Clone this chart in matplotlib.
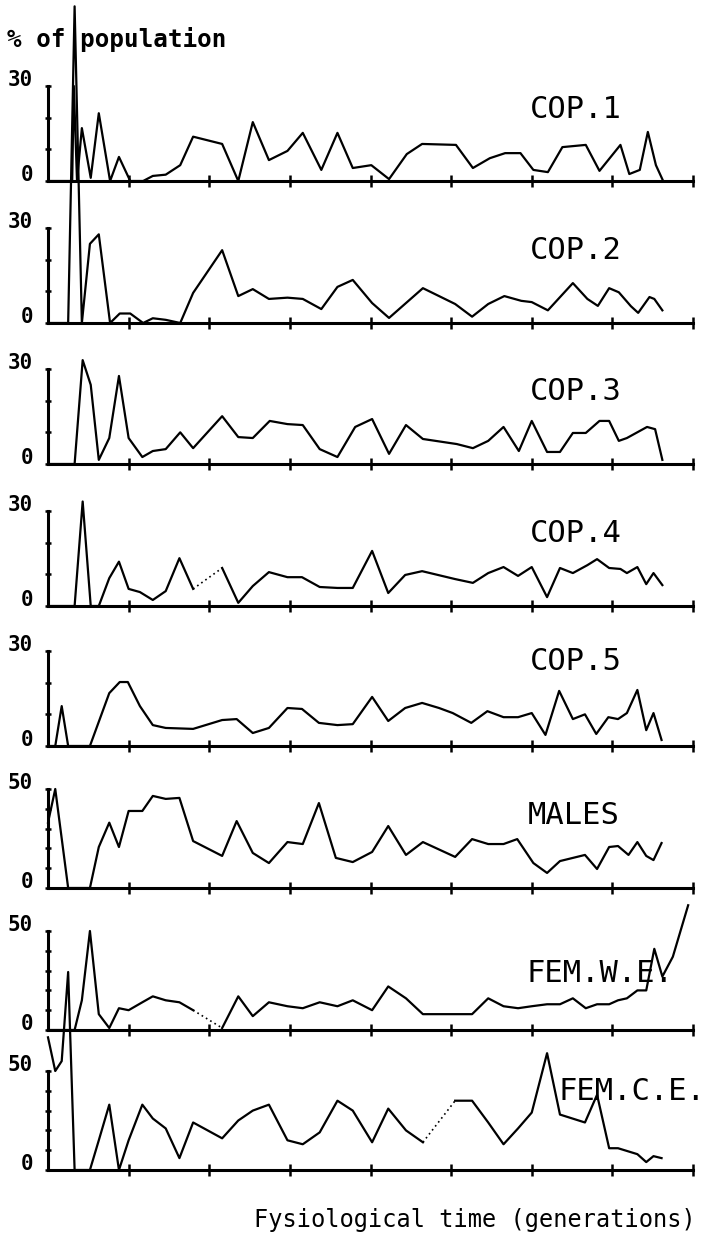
import matplotlib
matplotlib.use('Agg')
import matplotlib.pyplot as plt

# Stage composition of the population (% of population) against fysiological time (generations)
cop1_t = [0, 0.30, 0.32, 0.36, 0.42, 0.53, 0.63, 0.77, 0.88, 1.02, 1.18, 1.30, 1.46, 1.64, 1.80, 2.16,
          2.36, 2.54, 2.74, 2.97, 3.16, 3.39, 3.59, 3.78, 4.01, 4.23, 4.45, 4.64, 5.06, 5.27, 5.48, 5.67,
          5.86, 6.02, 6.20, 6.38, 6.67, 6.84, 7.10, 7.21, 7.34, 7.44, 7.54, 7.63]
cop1_pct = [0, 0, 30, 0, 16.7, 1, 21.4, 0, 7.6, 0, 0, 1.6, 2, 5, 14, 11.7,
            0, 18.6, 6.6, 9.5, 15.2, 3.5, 15.2, 4.1, 5, 0.6, 8.5, 11.7, 11.4, 4.1, 7.2, 8.8,
            8.8, 3.5, 2.8, 10.7, 11.4, 3.2, 11.4, 2.2, 3.5, 15.5, 5, 0]

cop2_t = [0, 0.25, 0.33, 0.42, 0.52, 0.63, 0.77, 0.89, 1.02, 1.18, 1.30, 1.46, 1.64, 1.80, 2.16, 2.36,
          2.54, 2.74, 2.97, 3.16, 3.39, 3.59, 3.78, 4.02, 4.23, 4.65, 5.05, 5.26, 5.46, 5.66, 5.87, 6.00,
          6.20, 6.51, 6.69, 6.82, 6.96, 7.08, 7.23, 7.32, 7.46, 7.52, 7.62]
cop2_pct = [0, 0, 100, 0, 25, 28, 0, 3, 3, 0, 1.5, 1, 0, 9.5, 23, 8.5,
            10.7, 7.6, 8, 7.6, 4.4, 11.4, 13.6, 6.3, 1.6, 11, 6, 2, 6, 8.5, 7, 6.6,
            4, 12.6, 7.6, 5.4, 11, 9.7, 5.3, 3.2, 8.2, 7.6, 4]

cop3_t = [0, 0.33, 0.43, 0.53, 0.63, 0.76, 0.88, 1.00, 1.17, 1.30, 1.46, 1.64, 1.80, 2.16, 2.36, 2.54,
          2.75, 2.97, 3.16, 3.37, 3.59, 3.81, 4.02, 4.23, 4.44, 4.65, 5.07, 5.27, 5.46, 5.65, 5.84, 6.00,
          6.19, 6.35, 6.51, 6.67, 6.84, 6.96, 7.08, 7.18, 7.43, 7.53, 7.62]
cop3_pct = [0, 0, 32.8, 25, 1.3, 8.2, 27.8, 8.2, 2.2, 4.1, 4.7, 10, 5, 15.1, 8.5, 8.2,
            13.6, 12.6, 12.3, 4.7, 2.2, 11.7, 14.2, 3.2, 12.3, 7.9, 6.3, 5, 7.3, 11.7, 4.1, 13.6,
            3.8, 3.8, 9.8, 9.8, 13.6, 13.6, 7.3, 8.2, 11.7, 11, 1.3]

cop4_t = [0, 0.33, 0.43, 0.53, 0.63, 0.76, 0.88, 1.00, 1.14, 1.30, 1.46, 1.63, 1.80, 2.16, 2.36, 2.54,
          2.74, 2.97, 3.15, 3.37, 3.59, 3.78, 4.02, 4.22, 4.43, 4.64, 5.05, 5.27, 5.46, 5.65, 5.83, 6.00,
          6.19, 6.35, 6.51, 6.69, 6.81, 6.96, 7.10, 7.18, 7.31, 7.42, 7.51, 7.62]
cop4_pct = [0, 0, 33, 0, 0, 8.8, 14, 5.4, 4.4, 1.9, 4.7, 15.1, 5.4, 12, 1, 6.3,
            10.7, 9.1, 9.1, 6, 5.7, 5.7, 17.4, 4.1, 9.8, 11, 8.5, 7.3, 10.4, 12.3, 9.5, 12.3,
            2.8, 12, 10.4, 12.9, 14.8, 12, 11.7, 10.4, 12.3, 6.9, 10.4, 6.6]

cop5_t = [0, 0.09, 0.17, 0.25, 0.52, 0.76, 0.89, 0.99, 1.14, 1.30, 1.46, 1.80, 2.16, 2.34, 2.54, 2.74,
          2.97, 3.15, 3.36, 3.59, 3.78, 4.02, 4.22, 4.43, 4.64, 4.85, 5.02, 5.25, 5.45, 5.65, 5.83, 6.00,
          6.17, 6.34, 6.51, 6.66, 6.80, 6.95, 7.07, 7.18, 7.31, 7.42, 7.51, 7.61]
cop5_pct = [0, 0, 12.6, 0, 0, 16.7, 20.2, 20.2, 12.6, 6.6, 5.7, 5.4, 8.2, 8.5, 4.1, 5.7,
            12, 11.7, 7.3, 6.6, 6.9, 15.5, 7.9, 12, 13.6, 12, 10.4, 7.3, 11, 9.1, 9.1, 10.4,
            3.5, 17.4, 8.5, 10, 3.8, 9.1, 8.5, 10.4, 17.7, 5, 10.4, 1.9]

males_t = [0, 0.09, 0.25, 0.52, 0.63, 0.76, 0.88, 1.00, 1.17, 1.30, 1.46, 1.63, 1.80, 2.16, 2.34, 2.54,
           2.74, 2.97, 3.16, 3.36, 3.57, 3.78, 4.02, 4.22, 4.44, 4.65, 5.05, 5.26, 5.46, 5.65, 5.82, 6.02,
           6.19, 6.35, 6.66, 6.81, 6.96, 7.07, 7.20, 7.31, 7.42, 7.51, 7.61]
males_pct = [33, 50, 0, 0, 20.7, 33, 20.7, 38.9, 38.9, 46.5, 45, 45.5, 23.7, 16.2, 33.8, 17.7,
             12.6, 23.2, 22.2, 42.9, 15.2, 13.1, 18.2, 31.3, 16.7, 23.2, 15.7, 24.7, 22.2, 22.2, 24.7, 12.6,
             7.6, 13.6, 16.7, 9.6, 20.7, 21.2, 16.7, 23.2, 16.2, 14.1, 22.7]

femwe_t = [0, 0.25, 0.33, 0.42, 0.52, 0.63, 0.76, 0.88, 1.00, 1.17, 1.30, 1.46, 1.63, 1.80, 2.16, 2.36,
           2.54, 2.74, 2.97, 3.16, 3.37, 3.59, 3.78, 4.02, 4.22, 4.44, 4.65, 5.05, 5.26, 5.46, 5.65, 5.83,
           6.00, 6.19, 6.35, 6.51, 6.67, 6.81, 6.96, 7.07, 7.18, 7.31, 7.42, 7.52, 7.62, 7.75, 7.94]
femwe_pct = [0, 0, 0, 15, 50, 8, 1, 11, 10, 14, 17, 15, 14, 10, 1, 17,
             7, 14, 12, 11, 14, 12, 15, 10, 22, 16, 8, 8, 8, 16, 12, 11,
             12, 13, 13, 16, 11, 13, 13, 15, 16, 20, 20, 41, 27, 37, 63]

femce_t = [0, 0.09, 0.17, 0.25, 0.33, 0.52, 0.63, 0.76, 0.88, 1.00, 1.17, 1.30, 1.46, 1.63, 1.80, 2.16,
           2.36, 2.54, 2.74, 2.97, 3.16, 3.37, 3.59, 3.78, 4.02, 4.22, 4.44, 4.65, 5.05, 5.26, 5.46, 5.65,
           5.83, 6.00, 6.19, 6.35, 6.66, 6.81, 6.96, 7.07, 7.31, 7.42, 7.51, 7.61]
femce_pct = [67, 50, 55, 100, 0, 0, 15, 33, 0, 15, 33, 26, 21, 6, 24, 16,
             25, 30, 33, 15, 13, 19, 35, 30, 14, 31, 20, 14, 35, 35, 24, 13,
             21, 29, 59, 28, 24, 38, 11, 11, 8, 4, 7, 6]

panel_names = ['COP.1', 'COP.2', 'COP.3', 'COP.4', 'COP.5', 'MALES', 'FEM.W.E.', 'FEM.C.E.']
panel_t = [cop1_t, cop2_t, cop3_t, cop4_t, cop5_t, males_t, femwe_t, femce_t]
panel_pct = [cop1_pct, cop2_pct, cop3_pct, cop4_pct, cop5_pct, males_pct, femwe_pct, femce_pct]
panel_ymax = [30, 30, 30, 30, 30, 50, 50, 50]
# segments the plotter drew dotted (start time of the segment)
dotted_from = {3: [1.80], 6: [1.80], 7: [4.65]}

# layout (pixels)
W, H = 707, 1248
left_px, width_px = 48, 645
baseline_px = [181, 323, 464, 606, 746, 888, 1030, 1170]
name_x_px = [530, 530, 530, 530, 530, 528, 527, 558]
name_dy_px = [71, 73, 72, 73, 85, 73, 57, 78]

mono = 'DejaVu Sans Mono'
fig = plt.figure(figsize=(W / 100, H / 100), dpi=100)
fig.patch.set_facecolor('white')

for i, name in enumerate(panel_names):
    ymax = panel_ymax[i]
    px_per_pct = 95 / 30 if ymax == 30 else 99 / 50
    ax_h = 100
    ax = fig.add_axes([left_px / W, 1 - baseline_px[i] / H, width_px / W, ax_h / H])
    ax.set_xlim(0, 8)
    ax.set_ylim(0, ax_h / px_per_pct)
    ax.patch.set_alpha(0)

    t, p = panel_t[i], panel_pct[i]
    # split the trace where the pen went dotted
    cuts = [t.index(s) for s in dotted_from.get(i, [])]
    start = 0
    for c in cuts:
        ax.plot(t[start:c + 1], p[start:c + 1], color='black', lw=1.6, clip_on=False, zorder=3)
        ax.plot(t[c:c + 2], p[c:c + 2], color='black', lw=1.2, ls=(0, (1, 2)), clip_on=False, zorder=3)
        start = c + 1
    ax.plot(t[start:], p[start:], color='black', lw=1.6, clip_on=False, zorder=3)

    for s in ['top', 'right']:
        ax.spines[s].set_visible(False)
    ax.spines['left'].set_bounds(0, ymax)
    ax.spines['bottom'].set_bounds(0, 8)
    ax.spines['left'].set_linewidth(2.2)
    ax.spines['bottom'].set_linewidth(2.2)

    ax.set_xticks(range(1, 9))
    ax.set_yticks(range(0, ymax + 1, 10))
    ax.tick_params(axis='x', direction='inout', length=8, width=1.8, labelbottom=False)
    ax.tick_params(axis='y', direction='inout', length=5, width=1.8, labelleft=False)

    for val in (0, ymax):
        ax.annotate(str(val), xy=(0, val), xytext=(-15, 6), textcoords='offset pixels',
                    ha='right', va='center', fontsize=15, family=mono, fontweight='bold',
                    annotation_clip=False)

    ax.annotate(name, xy=(0, 0), xytext=(name_x_px[i] - left_px, name_dy_px[i]),
                textcoords='offset pixels', ha='left', va='center', fontsize=22,
                family=mono, annotation_clip=False)

fig.text(7 / W, 1 - 40 / H, '% of population', ha='left', va='center',
         fontsize=17.5, family=mono, fontweight='bold')
fig.text(475 / W, 1 - 1220 / H, 'Fysiological time (generations)', ha='center', va='center',
         fontsize=17, family=mono)

fig.savefig('out.png', dpi=100, facecolor='white')
